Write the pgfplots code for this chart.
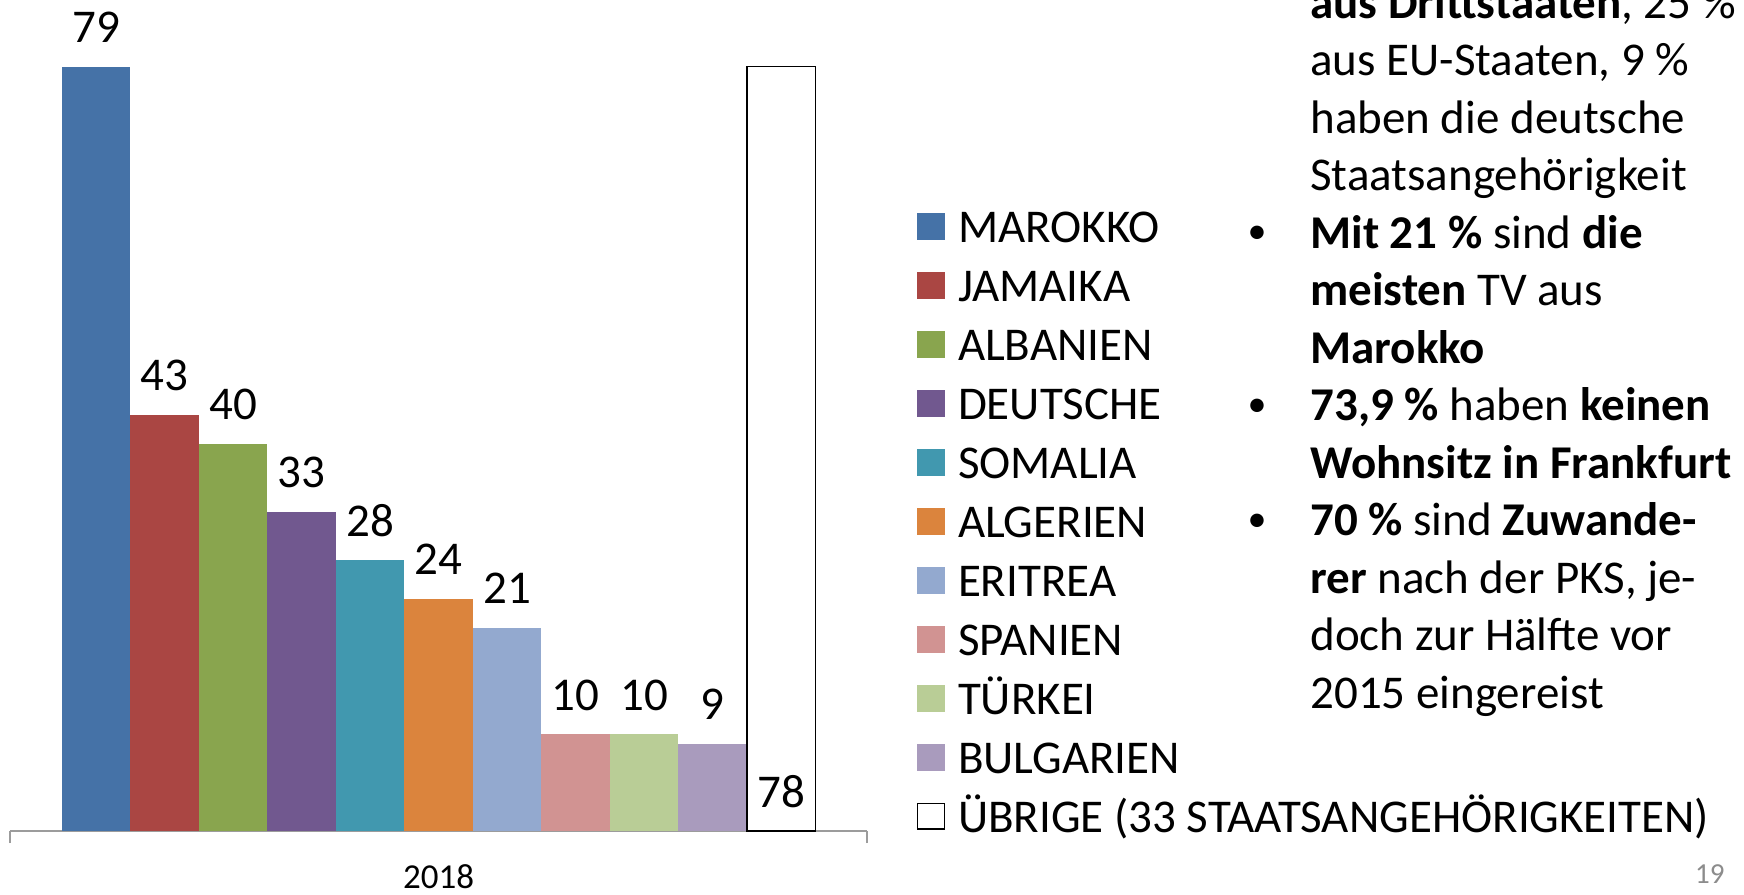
\documentclass[border=0pt]{standalone}
\usepackage{fontspec}
\setmainfont{Carlito}
\usepackage{pgfplots}
\pgfplotsset{compat=1.18}
\definecolor{c1}{HTML}{4572A7}
\definecolor{c2}{HTML}{AA4643}
\definecolor{c3}{HTML}{89A54E}
\definecolor{c4}{HTML}{71588F}
\definecolor{c5}{HTML}{4198AF}
\definecolor{c6}{HTML}{DB843D}
\definecolor{c7}{HTML}{93A9CF}
\definecolor{c8}{HTML}{D19392}
\definecolor{c9}{HTML}{B9CD96}
\definecolor{c10}{HTML}{A99BBD}
\definecolor{axisgray}{HTML}{9C9C9C}
\definecolor{pagegray}{HTML}{8C8C8C}
\newcommand\bigfont{\fontsize{23.5}{28.75}\selectfont}
\begin{document}
\begin{tikzpicture}
\useasboundingbox (0,0) rectangle (872pt,447pt);
\clip (0,0) rectangle (872pt,447pt);
\begin{axis}[
  at={(5pt,31.5pt)}, anchor=south west,
  scale only axis, width=428.5pt, height=387pt,
  xmin=-1, xmax=1, ymin=0, ymax=80,
  ybar=0pt, bar width=34.25pt,
  axis x line=bottom, axis y line=none,
  x axis line style={-, draw=axisgray, line width=1pt},
  xtick={-1,1}, xticklabels={,}, ytick=\empty,
  major tick length=6pt, tick align=outside,
  x tick style={draw=axisgray, line width=1pt},
  clip=false,
  /pgf/number format/assume math mode=true,
  nodes near coords,
  every node near coord/.append style={font=\bigfont, anchor=base, yshift=12pt, inner sep=0pt},
  sq/.style={legend image code/.code={\fill[##1, draw=none] (0pt,0pt) rectangle (14pt,13.5pt);}},
  sqo/.style={legend image code/.code={\draw[black, fill=white, line width=0.7pt] (0.35pt,0.35pt) rectangle (13.65pt,13.15pt);}},
  legend cell align=left,
  legend style={draw=none, fill=none, inner sep=0pt, outer sep=0pt,
    row sep=0pt, column sep=6.5pt,
    nodes={inner sep=0pt, text height=16pt, text depth=13.5pt, font=\bigfont},
    at={(1.05834,0.80233)}, anchor=north west},
]
\addplot[fill=c1, draw=none, sq] coordinates {(0,79)}; \addlegendentry{MAROKKO}
\addplot[fill=c2, draw=none, sq] coordinates {(0,43)}; \addlegendentry{JAMAIKA}
\addplot[fill=c3, draw=none, sq] coordinates {(0,40)}; \addlegendentry{ALBANIEN}
\addplot[fill=c4, draw=none, sq] coordinates {(0,33)}; \addlegendentry{DEUTSCHE}
\addplot[fill=c5, draw=none, sq] coordinates {(0,28)}; \addlegendentry{SOMALIA}
\addplot[fill=c6, draw=none, sq] coordinates {(0,24)}; \addlegendentry{ALGERIEN}
\addplot[fill=c7, draw=none, sq] coordinates {(0,21)}; \addlegendentry{ERITREA}
\addplot[fill=c8, draw=none, sq] coordinates {(0,10)}; \addlegendentry{SPANIEN}
\addplot[fill=c9, draw=none, sq] coordinates {(0,10)}; \addlegendentry{TÜRKEI}
\addplot[fill=c10, draw=none, sq] coordinates {(0,9)}; \addlegendentry{BULGARIEN}
\addplot[fill=white, draw=black, line width=0.75pt, sqo, nodes near coords={}] coordinates {(0,79)}; \addlegendentry{ÜBRIGE (33 STAATSANGEHÖRIGKEITEN)}
\node[anchor=base, font=\bigfont, inner sep=0pt] at ([xshift=171.25pt,yshift=12pt]axis cs:0,0) {78};
\node[anchor=base, font=\fontsize{17.5}{20}\selectfont, inner sep=0pt] at ([yshift=-28.5pt]axis cs:0,0) {2018};
\end{axis}
\begin{scope}[yshift=-1.5pt, every node/.style={anchor=base west, inner sep=0pt, font=\bigfont}]
\node at (655pt,439.25pt) {\textbf{aus Drittstaaten}, 25 \%};
\node at (655pt,410.5pt) {aus EU-Staaten, 9 \%};
\node at (655pt,381.75pt) {haben die deutsche};
\node at (655pt,353pt) {Staatsangehörigkeit};
\node at (655pt,324.25pt) {\textbf{Mit 21 \%} sind \textbf{die}};
\node at (655pt,295.5pt) {\textbf{meisten} TV aus};
\node at (655pt,266.75pt) {\textbf{Marokko}};
\node at (655pt,238pt) {\textbf{73,9 \%} haben \textbf{keinen}};
\node at (655pt,209.25pt) {\textbf{Wohnsitz in Frankfurt}};
\node at (655pt,180.5pt) {\textbf{70 \%} sind \textbf{Zuwande-}};
\node at (655pt,151.75pt) {\textbf{rer} nach der PKS, je-};
\node at (655pt,123pt) {doch zur Hälfte vor};
\node at (655pt,94.25pt) {2015 eingereist};
\end{scope}
\begin{scope}[yshift=-1.5pt, every node/.style={anchor=base, inner sep=0pt, font=\fontsize{19}{20}\selectfont}]
\node at (628.5pt,326.5pt) {•};
\node at (628.5pt,240.25pt) {•};
\node at (628.5pt,182.75pt) {•};
\end{scope}
\node[anchor=base east, inner sep=0pt, text=pagegray, font=\fontsize{14.5}{17}\selectfont] at (862.5pt,5.5pt) {19};
\end{tikzpicture}
\end{document}
